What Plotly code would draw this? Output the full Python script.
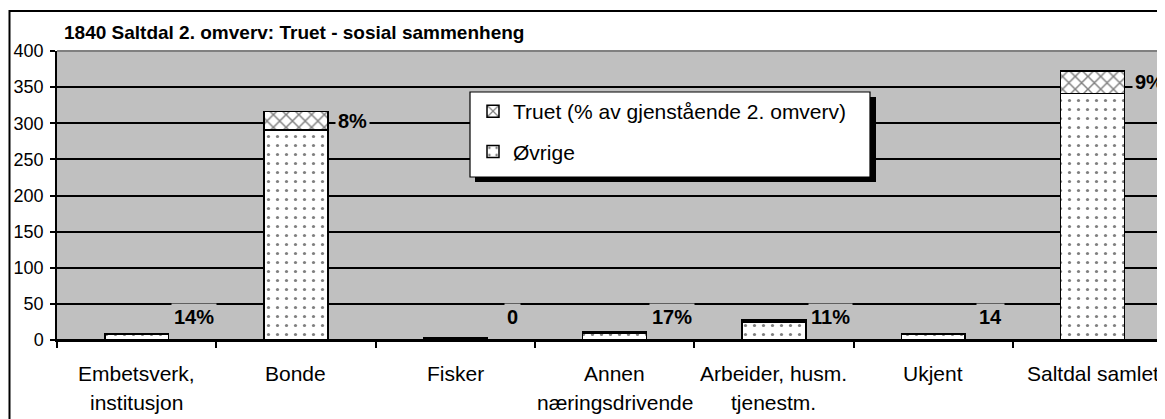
import plotly.graph_objects as go

# ---- data ----
categories = ["Embetsverk, institusjon", "Bonde", "Fisker", "Annen næringsdrivende",
              "Arbeider, husm. tjenestm.", "Ukjent", "Saltdal samlet"]
tick_lines = [["Embetsverk,", "institusjon"], ["Bonde"], ["Fisker"], ["Annen", "næringsdrivende"],
              ["Arbeider, husm.", "tjenestm."], ["Ukjent"], ["Saltdal samlet"]]
ovrige = [8, 291, 3, 10, 25, 8, 341]
truet = [1, 25, 0, 2, 3, 1, 31]
pct_labels = ["14%", "8%", "0", "17%", "11%", "14", "9%"]
series_names = ["Øvrige", "Truet (% av gjenstående 2. omverv)"]
title_text = "1840 Saltdal 2. omverv: Truet - sosial sammenheng"

FONT = "Liberation Sans, Arial, sans-serif"
# page body has an 8px margin; all pixel positions below are in figure coordinates
W, H = 1157, 411
L, R, T, B = 49, 0, 43, 79
PW, PH = W - L - R, H - T - B


def px_x(x):
    return (x - L) / PW


def px_y(y):
    return (H - B - y) / PH


fig = go.Figure()
fig.add_trace(go.Bar(
    x=categories, y=ovrige, name=series_names[0], legendgroup="g2", legendrank=2,
    width=0.4,
    marker=dict(color="white", line=dict(color="black", width=1.5),
                pattern=dict(shape=".", fgcolor="black", bgcolor="white", size=9, solidity=0.1)),
))
fig.add_trace(go.Bar(
    x=categories, y=truet, name=series_names[1], legendgroup="g1", legendrank=1,
    width=0.4,
    marker=dict(color="white", line=dict(color="black", width=1.5),
                pattern=dict(shape="x", fgcolor="black", bgcolor="white", size=9, solidity=0.3)),
))

annotations = []
# percentage labels
for c, o, t, lab in zip(categories, ovrige, truet, pct_labels):
    annotations.append(dict(
        x=c, y=max(o + t / 2, 32), xref="x", yref="y", text=f"<b>{lab}</b>",
        showarrow=False, xshift=57, bgcolor="#c0c0c0", borderpad=2,
        font=dict(family=FONT, size=20, color="black")))
# category labels
for c, lines in zip(categories, tick_lines):
    for i, line in enumerate(lines):
        annotations.append(dict(
            x=c, y=0, xref="x", yref="paper", text=line, showarrow=False,
            yanchor="middle", yshift=-33 - 29 * i,
            font=dict(family=FONT, size=21, color="black")))
# title
annotations.append(dict(
    x=px_x(54), y=px_y(25), xref="paper", yref="paper",
    xanchor="left", yanchor="middle", text=f"<b>{title_text}</b>", showarrow=False,
    font=dict(family=FONT, size=19, color="black")))

shapes = [
    # outer chart frame
    dict(type="rect", xref="paper", yref="paper",
         x0=px_x(1.5), x1=1.2, y0=-0.6, y1=px_y(3),
         line=dict(color="black", width=2), fillcolor="rgba(0,0,0,0)", layer="below"),
    # plot area top border
    dict(type="line", xref="paper", yref="paper", x0=0, x1=1.05, y0=1, y1=1,
         line=dict(color="#808080", width=2), layer="above"),
    # legend shadow
    dict(type="rect", xref="paper", yref="paper",
         x0=px_x(467), x1=px_x(868), y0=px_y(174), y1=px_y(89),
         line=dict(width=0), fillcolor="black", layer="above"),
    # legend box
    dict(type="rect", xref="paper", yref="paper",
         x0=px_x(462), x1=px_x(862), y0=px_y(169), y1=px_y(84),
         line=dict(color="black", width=1.2), fillcolor="white", layer="above"),
]

fig.update_layout(
    width=W, height=H,
    margin=dict(l=L, r=R, t=T, b=B, pad=0),
    paper_bgcolor="white", plot_bgcolor="#c0c0c0",
    barmode="stack", bargap=0.6,
    showlegend=True,
    legend=dict(x=px_x(465), y=px_y(83), xanchor="left", yanchor="top",
                bgcolor="rgba(0,0,0,0)", borderwidth=0,
                traceorder="grouped", tracegroupgap=10,
                font=dict(family=FONT, size=21, color="black")),
    xaxis=dict(type="category", range=[-0.5, 6.455], showticklabels=False,
               tickson="boundaries", ticks="outside", ticklen=6, tickcolor="black", tickwidth=1.5,
               showline=True, linecolor="black", linewidth=1.5, showgrid=False, zeroline=False),
    yaxis=dict(range=[0, 400], dtick=50, tickmode="linear", tick0=0,
               ticks="outside", ticklen=5, tickcolor="black", tickwidth=1.5,
               showline=True, linecolor="black", linewidth=1.5,
               showgrid=True, gridcolor="black", gridwidth=1.5,
               zeroline=True, zerolinecolor="black", zerolinewidth=1.5,
               ticklabelstandoff=3,
               tickfont=dict(family=FONT, size=18, color="black")),
    annotations=annotations, shapes=shapes,
)

fig.write_html("out.html")
